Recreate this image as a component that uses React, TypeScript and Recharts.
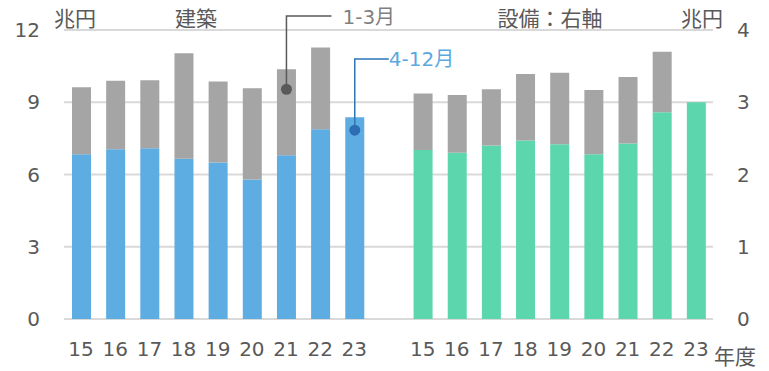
import React from 'react';
import { ComposedChart, Bar, XAxis, YAxis, CartesianGrid } from 'recharts';

// fiscal years (two groups share them)
const years = ['15', '16', '17', '18', '19', '20', '21', '22', '23'];

// 建築 (left axis, 兆円)
const kenchikuAprDec = [6.84, 7.05, 7.09, 6.65, 6.5, 5.79, 6.8, 7.88, 8.38];
const kenchikuJanMar = [2.78, 2.84, 2.82, 4.38, 3.36, 3.79, 3.57, 3.39, null];

// 設備 (right axis, 兆円)
const setsubiAprDec = [2.34, 2.3, 2.4, 2.47, 2.42, 2.28, 2.43, 2.86, 3.0];
const setsubiJanMar = [0.78, 0.8, 0.78, 0.92, 0.99, 0.89, 0.92, 0.84, null];

const leftTicks = [0, 3, 6, 9, 12];
const rightTicks = [0, 1, 2, 3, 4];

const data = [
  ...years.map((y, i) => ({ id: `k${y}`, year: y, kA: kenchikuAprDec[i], kB: kenchikuJanMar[i] })),
  { id: 'gap', year: '' },
  ...years.map((y, i) => ({ id: `s${y}`, year: y, sA: setsubiAprDec[i], sB: setsubiJanMar[i] })),
];

const TEXT = '#595959';
const NUM_FONT = 'DejaVu Sans, "Noto Sans CJK JP", sans-serif';
const JP_FONT = '"Noto Sans CJK JP", sans-serif';

// callout pointing at the 1-3月 segment of 建築 FY21
const JanMarCallout = (props: any) => {
  const { x, y, width, index } = props;
  if (index !== 6) return null;
  const cx = x + width / 2;
  const cy = y + 20;
  return (
    <g>
      <path d={`M${cx},${cy} V16 H${cx + 45}`} stroke="#595959" strokeWidth={1.5} fill="none" />
      <circle cx={cx} cy={cy} r={5.5} fill="#595959" />
      <text x={cx + 56} y={17} fill="#7f7f7f" fontSize={20} fontFamily={NUM_FONT} dominantBaseline="central">
        1-3月
      </text>
    </g>
  );
};

// callout pointing at the 4-12月 segment of 建築 FY23
const AprDecCallout = (props: any) => {
  const { x, y, width, index } = props;
  if (index !== 8) return null;
  const cx = x + width / 2;
  const cy = y + 13;
  return (
    <g>
      <path d={`M${cx},${cy} V59 H${cx + 34}`} stroke="#2E75B6" strokeWidth={1.5} fill="none" />
      <circle cx={cx} cy={cy} r={5.5} fill="#2E6DB4" />
      <text x={cx + 34} y={59} fill="#5BA8DE" fontSize={20} fontFamily={NUM_FONT} dominantBaseline="central">
        4-12月
      </text>
    </g>
  );
};

export default function App() {
  return (
    <div style={{ position: 'absolute', left: 0, top: 0, width: 769, height: 371, background: '#fff' }}>
      <ComposedChart width={769} height={371} data={data} margin={{ top: 30, right: 0, left: 0, bottom: 0 }}>
        <CartesianGrid vertical={false} stroke="#D9D9D9" strokeWidth={2} yAxisId="left" />
        <XAxis
          dataKey="id"
          axisLine={false}
          tickLine={false}
          tickSize={0}
          tickMargin={23}
          height={52}
          interval={0}
          tickFormatter={(v: string, i: number) => data[i]?.year ?? ''}
          tick={{ fill: TEXT, fontSize: 20, fontFamily: NUM_FONT }}
        />
        <YAxis
          yAxisId="left"
          domain={[0, 12]}
          ticks={leftTicks}
          width={64}
          axisLine={false}
          tickLine={false}
          tickSize={0}
          tickMargin={24}
          tick={{ fill: TEXT, fontSize: 20, fontFamily: NUM_FONT }}
        />
        <YAxis
          yAxisId="right"
          orientation="right"
          domain={[0, 4]}
          ticks={rightTicks}
          width={56}
          axisLine={false}
          tickLine={false}
          tickSize={0}
          tickMargin={24}
          tick={{ fill: TEXT, fontSize: 20, fontFamily: NUM_FONT }}
        />
        <Bar dataKey="kA" yAxisId="left" stackId="s" fill="#5DADE2" barSize={19} isAnimationActive={false} label={<AprDecCallout />} />
        <Bar dataKey="kB" yAxisId="left" stackId="s" fill="#A5A5A5" barSize={19} isAnimationActive={false} label={<JanMarCallout />} />
        <Bar dataKey="sA" yAxisId="right" stackId="s" fill="#5CD6AC" barSize={19} isAnimationActive={false} />
        <Bar dataKey="sB" yAxisId="right" stackId="s" fill="#A5A5A5" barSize={19} isAnimationActive={false} />
        <text x={75} y={17} textAnchor="middle" dominantBaseline="central" fill={TEXT} fontSize={21} fontFamily={JP_FONT}>兆円</text>
        <text x={196} y={17} textAnchor="middle" dominantBaseline="central" fill={TEXT} fontSize={21} fontFamily={JP_FONT}>建築</text>
        <text x={550} y={17} textAnchor="middle" dominantBaseline="central" fill={TEXT} fontSize={21} fontFamily={JP_FONT}>設備：右軸</text>
        <text x={702} y={17} textAnchor="middle" dominantBaseline="central" fill={TEXT} fontSize={21} fontFamily={JP_FONT}>兆円</text>
        <text x={735} y={355} textAnchor="middle" dominantBaseline="central" fill={TEXT} fontSize={21} fontFamily={JP_FONT}>年度</text>
      </ComposedChart>
    </div>
  );
}
